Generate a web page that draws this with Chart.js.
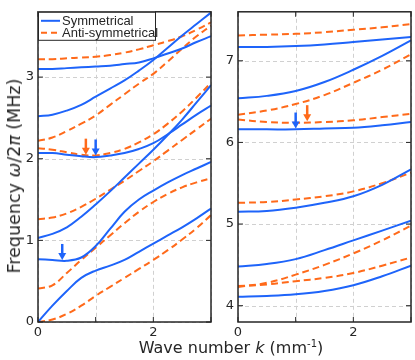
<!DOCTYPE html>
<html>
<head>
<meta charset="utf-8">
<script src="https://cdn.jsdelivr.net/npm/chart.js@4.4.0/dist/chart.umd.min.js"></script>
<style>
  body { margin: 0; background: #fff; }
  #wrap { position: relative; width: 415px; height: 360px; overflow: hidden; }
  #leftChart { position: absolute; left: 0; top: 0; }
  #rightChart { position: absolute; left: 218px; top: 0; }
  .ytitle { position: absolute; left: 14px; top: 176px; transform: translate(-50%, -50%) rotate(-90deg);
            white-space: nowrap; font: 17.5px "DejaVu Sans"; color: #262626; }
  .xtitle { position: absolute; left: 231px; top: 338px; transform: translateX(-50%);
            white-space: nowrap; font: 16px "DejaVu Sans"; color: #262626; }
  .xtitle sup { font-size: 10px; }
</style>
</head>
<body>
<div id="wrap">
  <canvas id="leftChart" width="218" height="360"></canvas>
  <canvas id="rightChart" width="197" height="360"></canvas>
  <div class="ytitle">Frequency <i>ω</i>/2<i>π</i> (MHz)</div>
  <div class="xtitle">Wave number <i>k</i> (mm<sup>-1</sup>)</div>
</div>
<script>
// wave number grid (mm^-1)
var kLeft = [0, 0.25, 0.5, 0.75, 1, 1.25, 1.5, 1.75, 2, 2.25, 2.5, 2.75, 3];
var kRight = [0, 0.5, 1, 1.5, 2, 2.5, 3];

// left panel, symmetrical modes (MHz)
var symLeft = [
  [0, 0.20, 0.38, 0.54, 0.63, 0.69, 0.76, 0.86, 0.96, 1.06, 1.16, 1.27, 1.39],
  [0.77, 0.76, 0.75, 0.79, 0.93, 1.14, 1.35, 1.50, 1.61, 1.71, 1.80, 1.88, 1.96],
  [1.03, 1.08, 1.16, 1.29, 1.44, 1.60, 1.77, 1.94, 2.11, 2.29, 2.48, 2.69, 2.90],
  [2.07, 2.07, 2.05, 2.03, 2.02, 2.04, 2.07, 2.12, 2.19, 2.30, 2.42, 2.54, 2.65],
  [2.52, 2.54, 2.59, 2.66, 2.76, 2.86, 2.96, 3.08, 3.21, 3.36, 3.51, 3.65, 3.79],
  [3.10, 3.10, 3.11, 3.12, 3.13, 3.14, 3.16, 3.18, 3.23, 3.29, 3.35, 3.43, 3.50]
];
// left panel, anti-symmetrical modes
var antiLeft = [
  [0, 0.03, 0.10, 0.20, 0.32, 0.43, 0.54, 0.65, 0.76, 0.88, 1.01, 1.15, 1.31],
  [0.41, 0.45, 0.60, 0.76, 0.91, 1.06, 1.21, 1.35, 1.47, 1.57, 1.65, 1.71, 1.76],
  [1.26, 1.28, 1.33, 1.41, 1.51, 1.62, 1.73, 1.85, 1.97, 2.10, 2.23, 2.36, 2.49],
  [2.13, 2.11, 2.08, 2.05, 2.04, 2.07, 2.12, 2.20, 2.30, 2.43, 2.58, 2.75, 2.93],
  [2.22, 2.26, 2.34, 2.43, 2.53, 2.66, 2.79, 2.92, 3.04, 3.19, 3.35, 3.50, 3.63],
  [3.22, 3.22, 3.23, 3.24, 3.25, 3.27, 3.30, 3.34, 3.39, 3.44, 3.50, 3.58, 3.67]
];

// right panel
var symRight = [
  [7.17, 7.17, 7.18, 7.20, 7.23, 7.26, 7.29],
  [6.54, 6.57, 6.63, 6.74, 6.89, 7.06, 7.25],
  [6.16, 6.16, 6.16, 6.17, 6.18, 6.21, 6.25],
  [5.15, 5.16, 5.20, 5.26, 5.34, 5.48, 5.67],
  [4.48, 4.51, 4.57, 4.68, 4.80, 4.92, 5.04],
  [4.11, 4.12, 4.14, 4.18, 4.25, 4.36, 4.49]
];
var antiRight = [
  [7.31, 7.32, 7.33, 7.35, 7.38, 7.41, 7.45],
  [6.34, 6.39, 6.47, 6.58, 6.73, 6.89, 7.08],
  [6.28, 6.25, 6.24, 6.25, 6.27, 6.31, 6.35],
  [5.26, 5.27, 5.30, 5.34, 5.40, 5.50, 5.63],
  [4.23, 4.28, 4.38, 4.50, 4.64, 4.80, 4.98],
  [4.24, 4.26, 4.30, 4.34, 4.40, 4.49, 4.59]
];

// arrows marking the modes (k, frequency at tip, S = symmetrical / A = anti)
var arrowsLeftK = [0.42, 0.83, 1.0];
var arrowsLeftF = [0.76, 2.05, 2.04];
var arrowsLeftType = ["S", "A", "S"];
var arrowsRightK = [1.0, 1.2];
var arrowsRightF = [6.17, 6.26];
var arrowsRightType = ["S", "A"];

var xTickVals = [0, 1, 2, 3];
var xTickText = ["0", "", "2", ""];
var yTicksLeft = [0, 1, 2, 3];
var yTicksRight = [4, 5, 6, 7];

var legendLabels = ["Symmetrical", "Anti-symmetrical"];

var BLUE = "#1e64fa";
var ORANGE = "#ff6a1a";
var INK = "#262626";

function makeSets(k, sym, anti) {
  var sets = [];
  sym.forEach(function (ys) {
    sets.push({
      label: legendLabels[0],
      data: k.map(function (x, i) { return { x: x, y: ys[i] }; }),
      borderColor: BLUE, borderWidth: 2, pointRadius: 0,
      tension: 0.4, fill: false
    });
  });
  anti.forEach(function (ys) {
    sets.push({
      label: legendLabels[1],
      data: k.map(function (x, i) { return { x: x, y: ys[i] }; }),
      borderColor: ORANGE, borderWidth: 2, borderDash: [7, 4], pointRadius: 0,
      tension: 0.4, fill: false
    });
  });
  return sets;
}

// dashed grid lines at the tick positions
var gridPlugin = {
  id: "dashGrid",
  beforeDatasetsDraw: function (chart) {
    var a = chart.chartArea, ctx = chart.ctx;
    var xs = chart.scales.x, ys = chart.scales.y;
    ctx.save();
    ctx.strokeStyle = "#d0d0d0";
    ctx.lineWidth = 1;
    ctx.setLineDash([4, 3]);
    ctx.beginPath();
    xs.ticks.forEach(function (t) {
      var px = Math.round(xs.getPixelForValue(t.value)) + 0.5;
      ctx.moveTo(px, a.top); ctx.lineTo(px, a.bottom);
    });
    ys.ticks.forEach(function (t) {
      var py = Math.round(ys.getPixelForValue(t.value)) + 0.5;
      ctx.moveTo(a.left, py); ctx.lineTo(a.right, py);
    });
    ctx.stroke();
    ctx.restore();
  }
};

// box + inward tick marks on all four sides
var framePlugin = {
  id: "frame",
  afterDatasetsDraw: function (chart) {
    var a = chart.chartArea, ctx = chart.ctx;
    var xs = chart.scales.x, ys = chart.scales.y;
    ctx.save();
    ctx.strokeStyle = INK;
    ctx.lineWidth = 1;
    ctx.setLineDash([]);
    ctx.beginPath();
    xs.ticks.forEach(function (t) {
      var px = xs.getPixelForValue(t.value);
      ctx.moveTo(px, a.top); ctx.lineTo(px, a.top + 5);
      ctx.moveTo(px, a.bottom); ctx.lineTo(px, a.bottom - 5);
    });
    ys.ticks.forEach(function (t) {
      var py = ys.getPixelForValue(t.value);
      ctx.moveTo(a.left, py); ctx.lineTo(a.left + 5, py);
      ctx.moveTo(a.right, py); ctx.lineTo(a.right - 5, py);
    });
    ctx.stroke();
    ctx.lineWidth = 1.5;
    ctx.strokeRect(a.left, a.top, a.right - a.left, a.bottom - a.top);
    ctx.restore();
  }
};

var arrowPlugin = {
  id: "arrows",
  afterDatasetsDraw: function (chart, args, opts) {
    var ctx = chart.ctx, xs = chart.scales.x, ys = chart.scales.y;
    ctx.save();
    opts.k.forEach(function (k, i) {
      var px = xs.getPixelForValue(k);
      var py = ys.getPixelForValue(opts.f[i]);
      var col = opts.type[i] === "S" ? BLUE : ORANGE;
      ctx.strokeStyle = col; ctx.fillStyle = col;
      ctx.lineWidth = 2.5; ctx.setLineDash([]);
      ctx.beginPath(); ctx.moveTo(px, py - 16); ctx.lineTo(px, py - 6); ctx.stroke();
      ctx.beginPath();
      ctx.moveTo(px - 4, py - 7); ctx.lineTo(px + 4, py - 7); ctx.lineTo(px, py); ctx.closePath();
      ctx.fill();
    });
    ctx.restore();
  }
};

var legendPlugin = {
  id: "boxLegend",
  afterDraw: function (chart) {
    var a = chart.chartArea, ctx = chart.ctx;
    var x0 = a.left, y0 = a.top, w = 117, h = 28;
    ctx.save();
    ctx.fillStyle = "#fff";
    ctx.fillRect(x0, y0, w, h);
    ctx.strokeStyle = INK; ctx.lineWidth = 1;
    ctx.strokeRect(x0 + 0.5, y0 + 0.5, w, h);
    var rows = [y0 + 9, y0 + 21];
    var cols = [BLUE, ORANGE];
    ctx.font = "13px 'Liberation Sans'";
    ctx.textBaseline = "middle";
    rows.forEach(function (ry, i) {
      ctx.strokeStyle = cols[i]; ctx.lineWidth = 2;
      ctx.setLineDash(i === 1 ? [6, 4] : []);
      ctx.beginPath(); ctx.moveTo(x0 + 3, ry); ctx.lineTo(x0 + 22, ry); ctx.stroke();
      ctx.fillStyle = INK;
      ctx.fillText(legendLabels[i], x0 + 24, ry + 0.5);
    });
    ctx.restore();
  }
};

function makeChart(id, k, sym, anti, yMin, yMax, yTicks, yAxisWidth, padRight, arrows) {
  return new Chart(document.getElementById(id).getContext("2d"), {
    type: "line",
    data: { datasets: makeSets(k, sym, anti) },
    options: {
      responsive: false,
      animation: false,
      devicePixelRatio: 1,
      layout: { padding: { top: 4, right: padRight, left: 0, bottom: 0 } },
      plugins: { legend: { display: false }, tooltip: { enabled: false }, arrows: arrows },
      scales: {
        x: {
          type: "linear", min: 0, max: 3,
          afterBuildTicks: function (s) { s.ticks = xTickVals.map(function (v) { return { value: v }; }); },
          afterFit: function (s) { s.height = 38; },
          ticks: {
            padding: 3, color: INK, font: { family: "DejaVu Sans", size: 13 },
            callback: function (v) { return xTickText[xTickVals.indexOf(v)]; }
          },
          grid: { display: false, drawTicks: false },
          border: { display: false }
        },
        y: {
          type: "linear", min: yMin, max: yMax,
          afterBuildTicks: function (s) { s.ticks = yTicks.map(function (v) { return { value: v }; }); },
          afterFit: function (s) { s.width = yAxisWidth; },
          ticks: { padding: 4, color: INK, font: { family: "DejaVu Sans", size: 13 } },
          grid: { display: false, drawTicks: false },
          border: { display: false }
        }
      }
    },
    plugins: id === "leftChart" ? [gridPlugin, framePlugin, arrowPlugin, legendPlugin] : [gridPlugin, framePlugin, arrowPlugin]
  });
}

makeChart("leftChart", kLeft, symLeft, antiLeft, 0, 3.8, yTicksLeft, 38, 7,
  { k: arrowsLeftK, f: arrowsLeftF, type: arrowsLeftType });
makeChart("rightChart", kRight, symRight, antiRight, 3.8, 7.6, yTicksRight, 20, 4,
  { k: arrowsRightK, f: arrowsRightF, type: arrowsRightType });
</script>
</body>
</html>
